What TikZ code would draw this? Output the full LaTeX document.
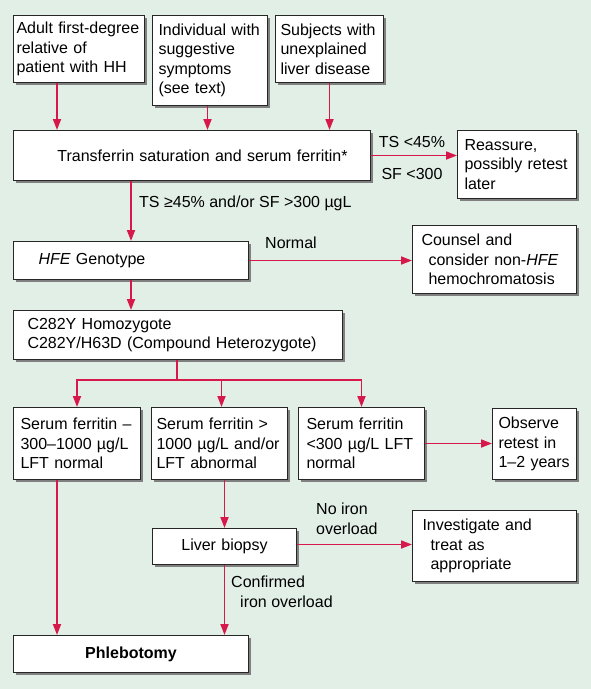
\documentclass[tikz,border=0pt]{standalone}
\usepackage{fontspec}
\setmainfont{Liberation Sans}
\usetikzlibrary{arrows.meta,shadows}
\definecolor{bgc}{RGB}{226,239,231}
\definecolor{arrc}{RGB}{214,24,74}
\newcommand{\fs}{\fontsize{16}{19.5}\selectfont}
\tikzset{
  box/.style={draw=black!85, line width=1pt, fill=white,
    drop shadow={shadow xshift=2.5pt, shadow yshift=-2.5pt, fill=black!50, opacity=1},
    font=\fs, align=left, anchor=north west, inner ysep=0pt},
  cbox/.style={box, align=center},
  arr/.style={draw=arrc, line width=1.7pt, -{Triangle[length=11pt,width=8pt]}},
  ln/.style={draw=arrc, line width=1.7pt},
  lbl/.style={font=\fs, inner sep=0pt, align=left}
}
\begin{document}
\begin{tikzpicture}[x=1pt,y=-1pt]
\fill[bgc] (0,0) rectangle (591,689);
\useasboundingbox (0,0) rectangle (591,689);
% top row
\node[box, minimum height=67pt, text width=125pt, inner xsep=3pt] (b1) at (13,15)
  {\mbox{Adult first-degree}\\relative of\\\mbox{patient with HH}};
\node[box, minimum height=90pt, text width=103pt, inner xsep=6pt] (b2) at (152,15)
  {\mbox{Individual with}\\suggestive\\symptoms\\\mbox{(see text)}};
\node[box, minimum height=67pt, text width=98pt, inner xsep=5pt] (b3) at (275,15)
  {\mbox{Subjects with}\\unexplained\\\mbox{liver disease}};
% transferrin
\node[cbox, minimum height=50pt, text width=345pt, inner xsep=6pt] (b4) at (13,130)
  {\hspace*{21pt}Transferrin saturation and serum ferritin*};
\node[box, minimum height=68pt, text width=105pt, inner xsep=7pt] (b5) at (457,130)
  {Reassure,\\\mbox{possibly retest}\\later};
% HFE
\node[box, minimum height=38pt, text width=185pt, inner xsep=25pt] (hfe) at (13,241)
  {\textit{HFE} Genotype};
\node[box, minimum height=68pt, text width=146pt, inner xsep=9pt] (cns) at (412,225)
  {\mbox{Counsel and}\\\hspace*{7pt}\mbox{consider non-\textit{HFE}}\\\hspace*{7pt}hemochromatosis};
% C282Y
\node[box, minimum height=49pt, text width=301pt, inner xsep=14pt] (c282) at (13,310)
  {\mbox{C282Y Homozygote}\\\mbox{C282Y/H63D (Compound Heterozygote)}};
% serum ferritin row
\node[box, minimum height=72pt, text width=113pt, inner xsep=7pt] (sf1) at (13,407)
  {\mbox{Serum ferritin –}\\\mbox{300–1000 µg/L}\\\mbox{LFT normal}};
\node[box, minimum height=72pt, text width=126pt, inner xsep=5pt] (sf2) at (151,407)
  {\mbox{Serum ferritin >}\\\mbox{1000 µg/L and/or}\\\mbox{LFT abnormal}};
\node[box, minimum height=72pt, text width=110pt, inner xsep=8pt] (sf3) at (298,407)
  {\mbox{Serum ferritin}\\\mbox{<300 µg/L LFT}\\normal};
\node[box, minimum height=71pt, text width=72pt, inner xsep=6pt] (obs) at (492,408)
  {Observe\\\mbox{retest in}\\\mbox{1–2 years}};
% biopsy
\node[cbox, minimum height=36pt, text width=132pt, inner xsep=6pt] (bio) at (152,528)
  {Liver biopsy};
\node[box, minimum height=71pt, text width=144pt, inner xsep=10pt] (inv) at (412,510)
  {\mbox{Investigate and}\\\hspace*{8pt}\mbox{treat as}\\\hspace*{8pt}appropriate};
% phlebotomy
\node[cbox, minimum height=37pt, text width=223pt, inner xsep=6pt] (phl) at (13,635)
  {\textbf{Phlebotomy}};

% connectors
\draw[arr] ([xshift=44pt]b1.south west) -- ([xshift=44pt]b1.south west |- b4.north);
\draw[arr] ([xshift=-2.5pt]b2.south) -- ([xshift=-2.5pt]b2.south |- b4.north);
\draw[arr] (b3.south) -- (b3.south |- b4.north);
\draw[arr] (b4.east) -- (b4.east -| b5.west);
\node[lbl] (ts) at (412,142) {TS <45\%};
\node[lbl] (sf) at (412,174) {SF <300};
\draw[arr] (hfe.north |- b4.south) -- (hfe.north);
\node[lbl, anchor=west] (tsl) at (139,203) {TS ≥45\% and/or SF >300 µgL};
\draw[arr] (hfe.east) -- (hfe.east -| cns.west);
\node[lbl] (nrm) at (291,243) {Normal};
\draw[arr] (hfe.south) -- (hfe.south |- c282.north);
\coordinate (jtop) at ([xshift=164pt]c282.south west);
\coordinate (jn) at ([yshift=-20pt]jtop);
\draw[ln] (jtop) -- (jn);
\draw[arr] (jn) -| (sf1.north);
\draw[arr] (jn) -| (sf3.north);
\draw[arr] ([xshift=2pt]jn -| sf2.north) -- ([xshift=2pt]sf2.north);
\draw[arr] (sf3.east) -- (sf3.east -| obs.west);
\draw[arr] ([xshift=44pt]sf1.south west) -- ([xshift=44pt]sf1.south west |- phl.north);
\draw[arr] (bio.north |- sf2.south) -- (bio.north);
\draw[arr] ([yshift=2pt]bio.east) -- ([yshift=2pt]bio.east -| inv.west);
\node[lbl, anchor=north west] (noi) at (316,503) {No iron\\overload};
\draw[arr] (bio.south) -- (bio.south |- phl.north);
\node[lbl, anchor=north west] (cnf) at (231,576) {Confirmed\\\hspace*{9pt}iron overload};
\end{tikzpicture}
\end{document}
